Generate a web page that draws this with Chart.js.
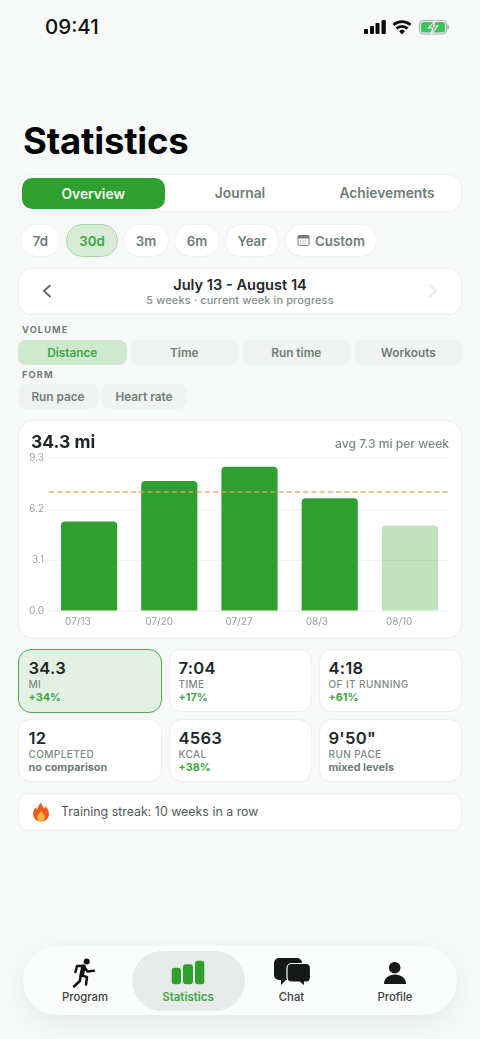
<!DOCTYPE html>
<html><head><meta charset="utf-8"><title>Statistics</title>
<script src="https://cdn.jsdelivr.net/npm/chart.js@4"></script>
<style>
*{box-sizing:border-box;margin:0;padding:0}
html,body{width:480px;height:1039px;overflow:hidden;background:#f6f9f8;font-family:Inter,"Noto Sans",sans-serif;-webkit-font-smoothing:antialiased}
.a{position:absolute}
.t{position:absolute;white-space:nowrap;line-height:1;transform:translateY(-50%)}
.c{transform:translate(-50%,-50%)}
.box{position:absolute;background:#fff;border:1px solid #eaf0ed}
.pill{position:absolute;display:flex;align-items:center;justify-content:center;white-space:nowrap}
.chip{top:224px;height:33px;border-radius:17px;background:#fff;border:1px solid #edf2f0;color:#6f7d78;font-size:13.3px;font-weight:600}
.seg{height:25px;border-radius:8px;background:#f0f3f2;color:#6f7d78;font-size:11.8px;font-weight:600}
.sec{font-size:9.2px;font-weight:700;letter-spacing:1.15px;color:#6f7d78;left:22px}
.tab{font-size:13.8px;font-weight:600;color:#6f7d78}
.num{font-size:16.6px;font-weight:600;color:#20272a;letter-spacing:.25px}
.lab{font-size:10px;font-weight:500;color:#7d8985;letter-spacing:.4px}
.del{font-size:10.8px;font-weight:700;color:#3fa644}
.gr{color:#6f7d78}
.nl{font-size:11.3px;font-weight:500;color:#3a3f3e}
</style></head><body>
<div class="t" style="left:45px;top:27px;font-size:20.5px;font-weight:500;color:#0c0c0c">09:41</div>
<svg class="a" style="left:0;top:0" width="480" height="60">
 <rect x="364" y="29" width="4" height="5" rx="1" fill="#0c0c0c"/><rect x="370" y="26" width="4" height="8" rx="1" fill="#0c0c0c"/><rect x="375.500" y="23" width="4" height="11" rx="1" fill="#0c0c0c"/><rect x="381.500" y="20" width="4.300" height="14" rx="1" fill="#0c0c0c"/>
 <path d="M393.500 25a12.500 12.500 0 0 1 17 0M396.500 28.500a8 8 0 0 1 11 0" fill="none" stroke="#0c0c0c" stroke-width="2.800"/><path d="M399.200 31.200a4 4 0 0 1 5.600 0L402 34.500z" fill="#0c0c0c"/>
 <rect x="419.500" y="20.500" width="27" height="13.500" rx="4" fill="none" stroke="#a3b0a8" stroke-width="1.200"/><rect x="421" y="22" width="24" height="10.500" rx="2.600" fill="#3cc465"/><rect x="447.300" y="25" width="1.600" height="4.500" rx=".8" fill="#a3b0a8"/>
 <path d="M435.500 20l-7 8h4.500l-2.500 6.500 7.500-8.500h-4.500z" fill="#98a59d" stroke="#eef6f0" stroke-width="1.100"/>
</svg>
<div class="t" style="left:23px;top:141px;font-size:36.5px;font-weight:700;color:#050505;letter-spacing:-.2px">Statistics</div>

<div class="box" style="left:18px;top:174px;width:444px;height:38px;border-radius:14px"></div>
<div class="pill" style="left:21.500px;top:177.500px;width:143.500px;height:31.500px;border-radius:10px;background:#2f9f30;color:#f4fbf4;font-size:13.800px;font-weight:600;padding-top:1px">Overview</div>
<div class="t c tab" style="left:240px;top:194px">Journal</div>
<div class="t c tab" style="left:387px;top:194px">Achievements</div>

<div class="pill chip" style="left:20px;width:41px">7d</div>
<div class="pill chip" style="left:66px;width:52px;background:#d8edd8;border-color:#a8d6a9;color:#3fa644">30d</div>
<div class="pill chip" style="left:123px;width:46px">3m</div>
<div class="pill chip" style="left:174px;width:46px">6m</div>
<div class="pill chip" style="left:225px;width:54px">Year</div>
<div class="pill chip" style="left:285px;width:92px;padding-left:18px">Custom</div>
<svg class="a" style="left:297px;top:234px" width="13" height="13"><rect x="1" y="1.500" width="11" height="10" rx="1.500" fill="none" stroke="#6f7d78" stroke-width="1"/><rect x="1" y="1.500" width="11" height="3" fill="#6f7d78"/><path d="M3 7h7M3 9.300h7" stroke="#a4aeab" stroke-width="1" stroke-dasharray="1.400 .8"/></svg>

<div class="box" style="left:18px;top:267.500px;width:444px;height:47px;border-radius:14px"></div>
<div class="t c" style="left:240px;top:284.500px;font-size:14.600px;font-weight:600;color:#20272a">July 13 - August 14</div>
<div class="t c" style="left:240px;top:300px;font-size:11px;font-weight:500;color:#84908c;letter-spacing:.1px">5 weeks · current week in progress</div>
<svg class="a" style="left:36px;top:279px" width="410" height="24"><path d="M14.500 6l-6.500 6 6.500 6" fill="none" stroke="#5f6d69" stroke-width="1.900"/><path d="M393.500 6l6.500 6-6.500 6" fill="none" stroke="#e1e7e5" stroke-width="1.600"/></svg>

<div class="t sec" style="top:330px">VOLUME</div>
<div class="pill seg" style="left:18px;top:340px;width:108.500px;background:#cfe9cf;color:#3fa644">Distance</div>
<div class="pill seg" style="left:130px;top:340px;width:108.500px">Time</div>
<div class="pill seg" style="left:242px;top:340px;width:108.500px">Run time</div>
<div class="pill seg" style="left:354px;top:340px;width:108.500px">Workouts</div>
<div class="t sec" style="top:375px">FORM</div>
<div class="pill seg" style="left:18px;top:384px;width:80px">Run pace</div>
<div class="pill seg" style="left:101.500px;top:384px;width:85px">Heart rate</div>

<div class="box" style="left:18px;top:420px;width:444px;height:219px;border-radius:16px"></div>
<div class="a" style="left:18px;top:420px;width:444px;height:219px"><canvas id="chart" width="444" height="219" style="display:block;width:444px;height:219px"></canvas></div>
<div class="t" style="left:31px;top:442px;font-size:17.500px;font-weight:700;color:#1e2527">34.3 mi</div>
<div class="t" style="right:31px;top:444px;font-size:12.100px;font-weight:500;color:#7f8b87">avg 7.3 mi per week</div>

<div class="box" style="left:18px;top:649px;width:144px;height:64px;border-radius:13px;background:#e3f1e4;border:1.800px solid #4eaa52"></div>
<div class="box" style="left:168.500px;top:649px;width:143px;height:63px;border-radius:13px"></div>
<div class="box" style="left:318.500px;top:649px;width:143.500px;height:63px;border-radius:13px"></div>
<div class="box" style="left:18px;top:719px;width:143.500px;height:63px;border-radius:13px"></div>
<div class="box" style="left:168.500px;top:719px;width:143px;height:63px;border-radius:13px"></div>
<div class="box" style="left:318.500px;top:719px;width:143.500px;height:63px;border-radius:13px"></div>

<div class="t num" style="left:28.500px;top:667.500px">34.3</div><div class="t lab" style="left:28.500px;top:684px">MI</div><div class="t del" style="left:28.500px;top:697.500px">+34%</div>
<div class="t num" style="left:178.500px;top:667.500px">7:04</div><div class="t lab" style="left:178.500px;top:684px">TIME</div><div class="t del" style="left:178.500px;top:697.500px">+17%</div>
<div class="t num" style="left:328.500px;top:667.500px">4:18</div><div class="t lab" style="left:328.500px;top:684px">OF IT RUNNING</div><div class="t del" style="left:328.500px;top:697.500px">+61%</div>
<div class="t num" style="left:28.500px;top:737.500px">12</div><div class="t lab" style="left:28.500px;top:754px">COMPLETED</div><div class="t del gr" style="left:28.500px;top:767.500px">no comparison</div>
<div class="t num" style="left:178.500px;top:737.500px">4563</div><div class="t lab" style="left:178.500px;top:754px">KCAL</div><div class="t del" style="left:178.500px;top:767.500px">+38%</div>
<div class="t num" style="left:328.500px;top:737.500px">9'50"</div><div class="t lab" style="left:328.500px;top:754px">RUN PACE</div><div class="t del gr" style="left:328.500px;top:767.500px">mixed levels</div>

<div class="box" style="left:18px;top:793px;width:444px;height:37.500px;border-radius:12px"></div>
<svg class="a" style="left:32px;top:802px" width="18" height="20"><path d="M9 .5c1 3 2 4 3.500 6 .6-.8.8-1.600.8-2.600C15.700 6 17 9 17 12c0 4.300-3.500 7.500-8 7.500S1 16.300 1 12c0-3 1.500-5 3-6.700.1 1.200.5 2 1.200 2.700C5.500 5 7 3 9 .5z" fill="#ef5a24"/><path d="M9 9c.5 1.500 3.800 3.500 3.800 6.300 0 2.400-1.800 4.200-3.800 4.200s-3.800-1.800-3.800-4.200C5.200 12.500 8 11.500 9 9z" fill="#fcb63c"/></svg>
<div class="t" style="left:61px;top:812px;font-size:12.400px;font-weight:400;color:#505a57">Training streak: 10 weeks in a row</div>

<div class="a" style="left:23px;top:946px;width:434px;height:69px;border-radius:35px;background:#fbfdfc;box-shadow:0 8px 26px rgba(40,60,50,.07)"></div>
<div class="a" style="left:132px;top:951px;width:113px;height:60px;border-radius:30px;background:#e7ecea"></div>
<svg class="a" style="left:0;top:950px" width="480" height="45">
 <circle cx="86.700" cy="11.500" r="3" fill="#111"/>
 <path d="M83.500 16.500l-1.800 8.500" fill="none" stroke="#111" stroke-width="4.500" stroke-linecap="round"/>
 <path d="M83.500 16h-6.500l-1.500 6M84 16.500l3.500 5 6.500-.8M81 25l6 2.200-1 7.300M80.500 26l-.7 5-5.800 5.500" fill="none" stroke="#111" stroke-width="2.500" stroke-linecap="round" stroke-linejoin="round"/>
 <rect x="171.700" y="17.700" width="9.300" height="16.600" rx="3" fill="#2f9f30"/><rect x="183" y="14.300" width="10" height="20" rx="3" fill="#2f9f30"/><rect x="195" y="10.700" width="9.300" height="23.600" rx="3" fill="#2f9f30"/>
 <path d="M279 8h18a5 5 0 0 1 5 5v12a5 5 0 0 1-5 5h-11l-5 5v-5h-2a5 5 0 0 1-5-5V13a5 5 0 0 1 5-5z" fill="#161818"/>
 <path d="M291.500 13.500h14.500a4.500 4.500 0 0 1 4.500 4.500v9.500a4.500 4.500 0 0 1-4.500 4.500h-1.500v4.500l-5-4.500h-8a4.500 4.500 0 0 1-4.500-4.500V18a4.500 4.500 0 0 1 4.500-4.500z" fill="#161818" stroke="#fbfdfc" stroke-width="1.200"/>
 <circle cx="394.700" cy="17.700" r="5.800" fill="#161818"/><path d="M384 34c0-6 5-9.500 11-9.500s11 3.500 11 9.500z" fill="#161818"/>
</svg>
<div class="t c nl" style="left:85px;top:997.500px">Program</div>
<div class="t c nl" style="left:188px;top:997.500px;color:#3fa644;font-weight:600;font-size:11.500px">Statistics</div>
<div class="t c nl" style="left:291.500px;top:997.500px">Chat</div>
<div class="t c nl" style="left:395px;top:997.500px">Profile</div>

<script>
const weekLabels = ["07/13", "07/20", "07/27", "08/3", "08/10"];
const weeklyMiles = [5.45, 7.92, 8.79, 6.86, 5.2];
const barColors = ["#2f9f30", "#2f9f30", "#2f9f30", "#2f9f30", "rgba(47,159,48,0.3)"];
const yTicks = [0, 3.1, 6.2, 9.3];
const averageMiles = [7.25, 7.25];
const averageX = [0, 0.995];

new Chart(document.getElementById("chart"), {
  data: {
    labels: weekLabels,
    datasets: [
      { type: "bar", data: weeklyMiles, backgroundColor: barColors, borderRadius: { topLeft: 4, topRight: 4 }, borderSkipped: "bottom", barPercentage: 0.7, categoryPercentage: 1, grouped: false, order: 2 },
      { type: "line", data: averageX.map((x, i) => ({ x, y: averageMiles[i] })), xAxisID: "x2", borderColor: "rgba(224,166,76,0.85)", borderWidth: 1.5, borderDash: [5, 3.2], pointRadius: 0, order: 1 }
    ]
  },
  options: {
    responsive: false, animation: false,
    layout: { padding: { left: 0, right: 12, top: 38.3, bottom: 0 } },
    plugins: { legend: { display: false }, tooltip: { enabled: false } },
    scales: {
      x: {
        grid: { display: false, drawTicks: false }, border: { display: false },
        ticks: { color: "#9aa4a1", font: { family: "Inter", size: 10 }, align: "start", labelOffset: -24, padding: 5, maxRotation: 0, autoSkip: false },
        afterFit(s) { s.height = 28; }
      },
      x2: { type: "linear", min: 0, max: 1, display: false },
      y: {
        min: 0, max: 9.3,
        grid: { color: "#f1f4f3", lineWidth: 1, drawTicks: false }, border: { display: false },
        afterBuildTicks(s) { s.ticks = yTicks.map(value => ({ value })); },
        ticks: { color: "#9aa4a1", font: { family: "Inter", size: 10 }, padding: 5, callback: v => Number(v).toFixed(1) },
        afterFit(s) { s.width = 31; }
      }
    }
  }
});
</script>
</body></html>
